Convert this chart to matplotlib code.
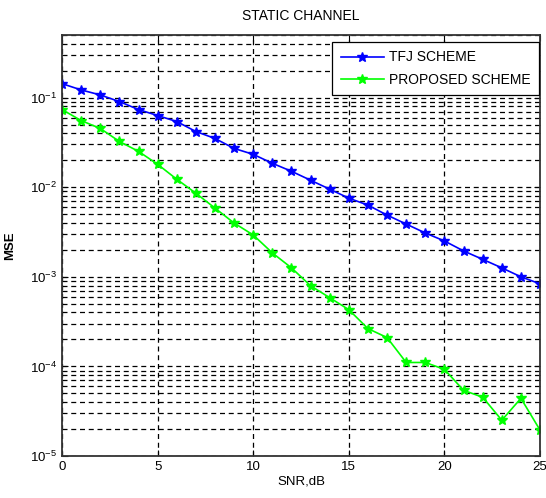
import numpy as np
import matplotlib
matplotlib.use("Agg")
from matplotlib import pyplot as plt
from matplotlib.ticker import LogLocator, NullFormatter

plt.rcParams['font.family'] = ['Liberation Sans', 'DejaVu Sans']

# SNR in dB
snr = list(range(0, 26))

# log10(MSE)
tfj_log = [-0.844, -0.914, -0.970, -1.044, -1.133, -1.200, -1.267, -1.378, -1.456,
           -1.567, -1.633, -1.733, -1.822, -1.922, -2.022, -2.122, -2.200, -2.311,
           -2.411, -2.511, -2.600, -2.711, -2.805, -2.900, -3.000, -3.078]
proposed_log = [-1.133, -1.256, -1.344, -1.489, -1.600, -1.744, -1.911, -2.067, -2.233,
                -2.400, -2.533, -2.733, -2.900, -3.100, -3.233, -3.367, -3.578, -3.678,
                -3.956, -3.956, -4.033, -4.267, -4.344, -4.600, -4.356, -4.711]

tfj = [10 ** v for v in tfj_log]
proposed = [10 ** v for v in proposed_log]

fig = plt.figure(figsize=(5.46, 4.98), dpi=100)
ax = fig.add_axes([0.1136, 0.0843, 0.8755, 0.8454])

ax.semilogy(snr, tfj, color='blue', marker='*', markersize=7.5, linewidth=1.2, label='TFJ SCHEME')
ax.semilogy(snr, proposed, color=(0, 1, 0), marker='*', markersize=7.5, linewidth=1.2, label='PROPOSED SCHEME')

ax.set_xlim(0, 25)
ax.set_ylim(1e-5, 0.5)
ax.set_xticks([0, 5, 10, 15, 20, 25])
ax.yaxis.set_major_locator(LogLocator(base=10, numticks=10))
ax.yaxis.set_minor_locator(LogLocator(base=10, subs=np.arange(2, 10), numticks=10))
ax.yaxis.set_minor_formatter(NullFormatter())

dash = (0, (4, 3))
ax.grid(True, which='major', axis='both', color='black', linestyle=dash, linewidth=0.9)
ax.grid(True, which='minor', axis='y', color='black', linestyle=dash, linewidth=0.9)

ax.tick_params(which='both', direction='in', top=True, right=True, labelsize=9.5)
ax.tick_params(which='major', length=4)
ax.tick_params(which='minor', length=2)
for s in ax.spines.values():
    s.set_linewidth(1.3)
    s.set_color('#333333')

ax.set_title('STATIC CHANNEL', fontsize=10, pad=11)
ax.set_xlabel('SNR,dB', fontsize=9.5, labelpad=2)
ax.set_ylabel('MSE', fontsize=9.5, fontweight='bold', labelpad=10)

leg = ax.legend(loc='upper right', bbox_to_anchor=(0.998, 0.983), fontsize=10,
                fancybox=False, framealpha=1, edgecolor='black', borderaxespad=0,
                handlelength=3.1, handletextpad=0.4, labelspacing=0.6, borderpad=0.6)
leg.get_frame().set_linewidth(0.9)

plt.savefig('out.png', dpi=100)
plt.close()
